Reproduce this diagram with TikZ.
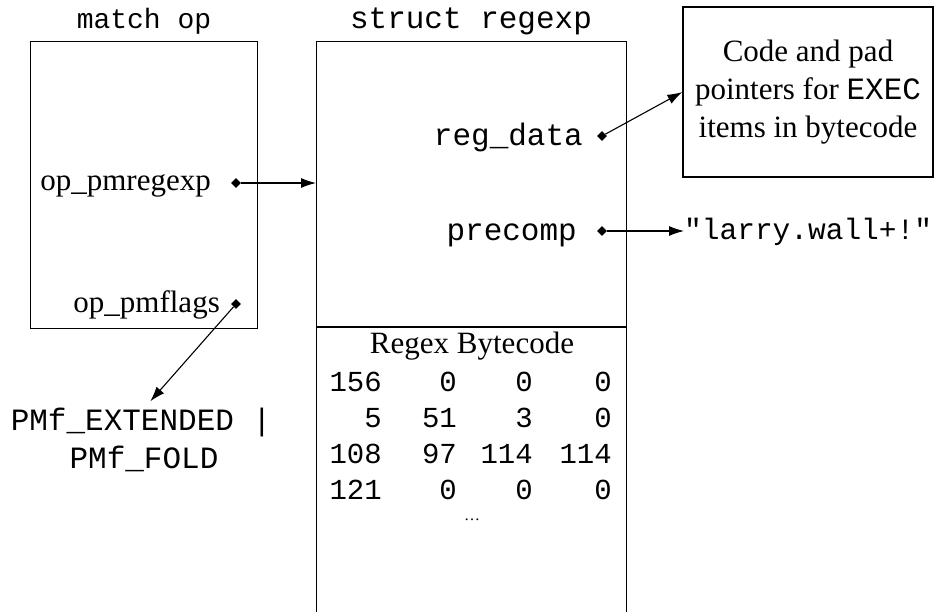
\documentclass[tikz,border=0pt]{standalone}
\usepackage{fontspec}
\setmainfont{Liberation Serif}
\setmonofont{Liberation Mono}
\usetikzlibrary{arrows.meta, positioning, shapes.geometric}

\begin{document}
\begin{tikzpicture}[x=1pt, y=-1pt,
    lbl/.style={font=\fontsize{31}{38}\selectfont, inner sep=0pt},
    code/.style={font=\fontsize{31}{38}\selectfont\ttfamily, inner sep=0pt},
    bytenum/.style={font=\fontsize{29}{34}\selectfont\ttfamily, inner sep=0pt, anchor=base east},
    box/.style={draw, line width=1.2pt, inner sep=0pt},
    ptrdot/.style={diamond, fill, inner sep=0pt, minimum size=10pt},
    ptr/.style={-{Latex[length=15pt, width=10pt]}, line width=1.1pt}]
        \useasboundingbox (0,0) rectangle (939,611);
        % ---- match op ----
        \node[box, minimum width=227pt, minimum height=287pt, anchor=north west]
              (matchop) at (30,41) {};
        \node[code, font=\fontsize{28}{34}\selectfont\ttfamily, anchor=base]
              (matchtitle) at (144,28) {match op};
        \node[lbl, anchor=base east] (pmregexp) at (211,190) {op\_pmregexp};
        \node[ptrdot] (pmregexpdot) at (236,183) {};
        \node[lbl, anchor=base east] (pmflags) at (220,312) {op\_pmflags};
        \node[ptrdot] (pmflagsdot) at (236,304) {};

        % ---- struct regexp (open at the bottom) ----
        \node[box, minimum width=310pt, minimum height=600pt, anchor=north west]
              (regexp) at (316,41) {};
        \node[code, anchor=base] (regexptitle) at (471,28) {struct regexp};
        \node[code, anchor=base east] (regdata) at (583,145) {reg\_data};
        \node[ptrdot] (regdatadot) at (602,136) {};
        \node[code, anchor=base east] (precomp) at (577,240) {precomp};
        \node[ptrdot] (precompdot) at (602,231) {};
        \coordinate (splitleft) at (316,327);
        \coordinate (splitright) at (626,327);
        \draw[line width=1.2pt] (splitleft) -- (splitright);

        % bytecode table
        \node[lbl, anchor=base] (bytetitle) at (472,353) {Regex Bytecode};
        \foreach \a/\b/\c/\d [count=\r] in {156/0/0/0, 5/51/3/0, 108/97/114/114, 121/0/0/0} {
          \node[bytenum] (byte\r a) at (382, 355+36*\r) {\a};
          \node[bytenum] (byte\r b) at (457, 355+36*\r) {\b};
          \node[bytenum] (byte\r c) at (533, 355+36*\r) {\c};
          \node[bytenum] (byte\r d) at (612, 355+36*\r) {\d};
        }
        \node[lbl, font=\fontsize{16}{16}\selectfont, anchor=base]
              (bytemore) at (472,520) {\ldots};

        % ---- targets ----
        \node[box, lbl, minimum width=250pt, minimum height=170pt, align=center]
              (execbox) at (808,92)
              {Code and pad\\pointers for {\ttfamily EXEC}\\items in bytecode};
        \node[code, font=\fontsize{29.5}{36}\selectfont\ttfamily, anchor=base west]
              (larry) at (684,239) {"larry.wall+!"};
        \node[code, anchor=base] (pmfext) at (141,430) {PMf\_EXTENDED |};
        \node[code, anchor=base] (pmffold) at (144,468) {PMf\_FOLD};

        % ---- pointers ----
        \draw[ptr] (pmregexpdot) -- (pmregexpdot -| regexp.west);
        \draw[ptr] (regdatadot) -- (execbox.west);
        \draw[ptr] (precompdot) -- (precompdot -| larry.west);
        \draw[ptr, shorten >=8pt] (pmflagsdot) -- ([xshift=4pt]pmfext.north);
\end{tikzpicture}
\end{document}
